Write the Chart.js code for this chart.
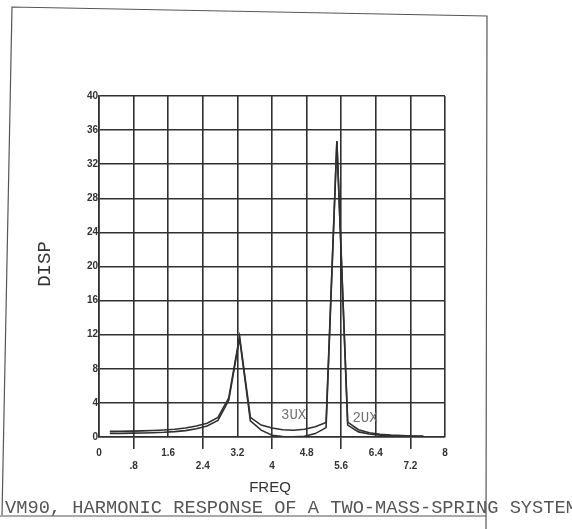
<!DOCTYPE html>
<html>
<head>
<meta charset="utf-8">
<script src="https://cdn.jsdelivr.net/npm/chart.js@4/dist/chart.umd.min.js"></script>
<style>
  html, body { margin: 0; padding: 0; background: #fff; }
  #wrap { width: 572px; height: 529px; }
</style>
</head>
<body>
<div id="wrap"><canvas id="respChart" width="572" height="529"></canvas></div>
<script>
// frequency steps (Hz) and the two displacement curves
const freq = [0.25, 0.5, 0.75, 1, 1.25, 1.5, 1.75, 2, 2.25, 2.5, 2.75, 3, 3.25, 3.5, 3.75,
              4, 4.25, 4.5, 4.75, 5, 5.25, 5.5, 5.75, 6, 6.25, 6.5, 6.75, 7, 7.25, 7.5];
const disp3 = [0.66, 0.67, 0.69, 0.72, 0.76, 0.82, 0.9, 1.05, 1.3, 1.62, 2.3, 4.6, 11.8, 2.3, 1.4,
               1.05, 0.85, 0.8, 0.9, 1.2, 1.7, 34.7, 1.75, 0.85, 0.5, 0.32, 0.22, 0.16, 0.12, 0.1];
const disp2 = [0.42, 0.43, 0.45, 0.47, 0.5, 0.55, 0.63, 0.75, 0.97, 1.3, 1.95, 4.3, 11.6, 1.9, 0.8,
               0.2, 0.05, 0.02, 0.08, 0.4, 1.1, 34.7, 1.4, 0.6, 0.35, 0.22, 0.14, 0.1, 0.07, 0.05];

// curve tags, placed in data units
const curveTags = [
  { text: "3UX", x: 4.5, y: 2.55 },
  { text: "2UX", x: 6.15, y: 2.2 }
];

const ink = "#303030";

const paperPlugin = {
  id: "paper",
  afterDraw(c) {
    const ctx = c.ctx;
    const xs = c.scales.x, ys = c.scales.y;
    ctx.save();

    ctx.font = "14px 'Liberation Mono'";
    ctx.fillStyle = "#707070";
    ctx.textAlign = "center";
    ctx.textBaseline = "middle";
    curveTags.forEach(t => ctx.fillText(t.text, xs.getPixelForValue(t.x), ys.getPixelForValue(t.y)));

    // axis titles
    ctx.fillStyle = "#333";
    ctx.font = "15px 'Liberation Sans'";
    ctx.fillText("FREQ", 270, 488);

    ctx.save();
    ctx.translate(45, 264);
    ctx.rotate(-Math.PI / 2);
    ctx.font = "19px 'Liberation Mono'";
    ctx.fillText("DISP", 0, 0);
    ctx.restore();

    // caption
    ctx.font = "18.7px 'Liberation Mono'";
    ctx.fillStyle = "#555";
    ctx.textAlign = "left";
    ctx.textBaseline = "alphabetic";
    ctx.fillText("VM90, HARMONIC RESPONSE OF A TWO-MASS-SPRING SYSTEM", 5, 513);

    // page frame
    ctx.strokeStyle = "#555";
    ctx.lineWidth = 1.2;
    ctx.beginPath();
    ctx.moveTo(2, 515);
    ctx.lineTo(12, 7);
    ctx.lineTo(487, 16);
    ctx.lineTo(486, 529);
    ctx.moveTo(0, 516);
    ctx.lineTo(486, 516);
    ctx.stroke();
    ctx.restore();
  }
};

const ctx = document.getElementById("respChart").getContext("2d");
const chart = new Chart(ctx, {
  type: "line",
  data: {
    datasets: [
      {
        label: "3UX",
        data: freq.map((f, i) => ({ x: f, y: disp3[i] })),
        borderColor: ink,
        borderWidth: 1.6,
        pointRadius: 0,
        fill: false
      },
      {
        label: "2UX",
        data: freq.map((f, i) => ({ x: f, y: disp2[i] })),
        borderColor: ink,
        borderWidth: 1.6,
        pointRadius: 0,
        fill: false
      }
    ]
  },
  options: {
    responsive: false,
    animation: false,
    layout: { padding: { left: 60, right: 127, top: 96, bottom: 52 } },
    plugins: { legend: { display: false }, tooltip: { enabled: false } },
    scales: {
      x: {
        type: "linear",
        min: 0,
        max: 8,
        afterFit: s => { s.height = 40; },
        ticks: {
          stepSize: 0.8,
          autoSkip: false,
          maxRotation: 0,
          padding: -2,
          color: "#333",
          font: { family: "'Liberation Sans'", size: 10, weight: "bold", lineHeight: 1.3 },
          callback: (value, index) => {
            const s = String(Math.round(value * 10) / 10).replace(/^0\./, ".");
            return index % 2 ? ["", s] : s;   // staggered rows like the plotter output
          }
        },
        grid: {
          color: ink,
          lineWidth: 1.6,
          tickLength: 12,
          tickColor: c => (c.index % 2 ? ink : "rgba(0,0,0,0)")
        },
        border: { color: ink, width: 1.6 }
      },
      y: {
        min: 0,
        max: 40,
        afterFit: s => { s.width = 39; },
        ticks: {
          stepSize: 4,
          padding: 1,
          color: "#333",
          font: { family: "'Liberation Sans'", size: 10, weight: "bold" }
        },
        grid: { color: ink, lineWidth: 1.6, drawTicks: false },
        border: { color: ink, width: 1.6 }
      }
    }
  },
  plugins: [paperPlugin]
});
</script>
</body>
</html>
